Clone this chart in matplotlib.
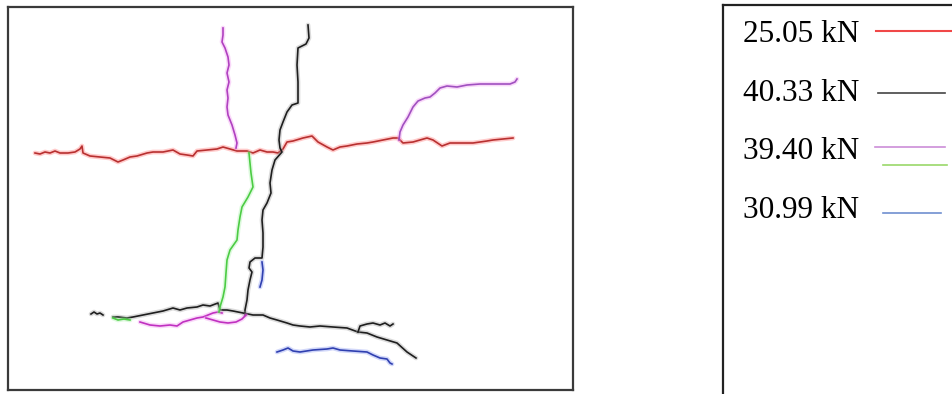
import matplotlib.pyplot as plt
import numpy as np

# crack traces in pixel coordinates (x right, y down)
red_x = [35, 40, 45, 50, 55, 60, 68, 75, 80, 82, 83, 90, 100, 110, 118, 123, 130, 137, 147, 153, 163,
         173, 180, 187, 193, 197, 207, 217, 223, 230, 237, 247, 253, 260, 267, 273, 278, 283, 287,
         293, 303, 312, 318, 327, 333, 340, 347, 357, 367, 373, 383, 393, 398, 403, 413, 427, 433,
         442, 450, 460, 473, 487, 493, 503, 513]
red_y = [153, 154, 152, 153, 151, 153, 153, 152, 149, 146, 153, 156, 157, 158, 162, 160, 157, 156, 153,
         152, 152, 150, 154, 155, 156, 151, 150, 149, 147, 149, 151, 151, 153, 150, 152, 152, 153, 149,
         142, 141, 138, 136, 142, 147, 150, 147, 146, 144, 143, 142, 140, 138, 138, 143, 142, 138, 140,
         146, 143, 143, 143, 141, 140, 139, 138]

black_top_x = [308, 309, 306, 298, 297, 298, 298, 292, 287, 283, 280, 279, 280, 282, 275, 272, 270, 271,
               267, 263, 262, 263, 263, 262, 255, 250, 249, 252, 250, 248, 247, 245, 245]
black_top_y = [25, 38, 44, 48, 65, 82, 103, 105, 112, 122, 130, 140, 148, 152, 160, 170, 183, 193,
               203, 210, 220, 233, 247, 258, 258, 262, 268, 272, 280, 290, 300, 310, 315]

black_low_x = [113, 118, 127, 133, 143, 153, 163, 173, 180, 187, 197, 203, 210, 218, 220, 227, 233, 243,
               253, 263, 270, 277, 287, 293, 300, 310, 320, 333, 347, 358, 367, 377, 387, 397, 407, 416]
black_low_y = [317, 317, 318, 317, 315, 313, 311, 308, 310, 308, 307, 305, 306, 303, 310, 310, 311, 313,
               315, 315, 318, 320, 323, 325, 326, 327, 326, 327, 328, 332, 333, 337, 340, 343, 352, 358]

black_branch_x = [358, 360, 367, 373, 380, 385, 390, 393]
black_branch_y = [332, 326, 324, 323, 325, 323, 326, 324]

black_tick_x = [91, 94, 97, 100, 103]
black_tick_y = [314, 312, 314, 313, 315]

mag_top_x = [223, 223, 222, 225, 228, 229, 227, 229, 227, 228, 227, 228, 232, 235, 237, 236]
mag_top_y = [28, 35, 42, 48, 57, 65, 73, 82, 90, 98, 107, 115, 125, 135, 143, 148]

mag_right_x = [399, 400, 403, 408, 413, 418, 425, 430, 435, 440, 447, 457, 467, 480, 497, 510, 515, 517]
mag_right_y = [140, 132, 125, 117, 107, 101, 98, 97, 93, 88, 86, 87, 85, 84, 84, 84, 82, 79]

mag_low_x = [140, 150, 160, 170, 177, 183, 190, 197, 203, 208, 213, 218, 222]
mag_low_y = [322, 325, 326, 325, 326, 322, 320, 318, 317, 315, 313, 312, 313]

mag_loop_x = [206, 213, 220, 228, 236, 242, 246]
mag_loop_y = [318, 320, 322, 323, 322, 319, 315]

green_x = [249, 250, 251, 253, 248, 242, 240, 238, 237, 230, 227, 226, 225, 223, 220, 219]
green_y = [153, 163, 173, 187, 197, 207, 217, 230, 240, 250, 260, 273, 287, 297, 307, 312]

green_tail_x = [113, 118, 124, 130]
green_tail_y = [318, 320, 319, 320]

blue_short_x = [262, 263, 262, 260]
blue_short_y = [262, 270, 280, 287]

blue_low_x = [277, 283, 288, 293, 300, 313, 327, 333, 340, 353, 367, 373, 380, 387, 390, 392]
blue_low_y = [352, 350, 348, 351, 352, 350, 349, 348, 350, 351, 352, 355, 358, 359, 363, 364]

loads = ['25.05 kN', '40.33 kN', '39.40 kN', '30.99 kN']

BLACK, GREEN, BLUE = '#1e1e1e', '#4ccc44', '#3040b0'

W, H = 953, 394
fig = plt.figure(figsize=(W / 100, H / 100), dpi=100)
fig.patch.set_facecolor('white')

# left panel, box at x 8..573, y 7..390
ax = fig.add_axes([8 / W, (H - 390) / H, 565 / W, 383 / H])
ax.set_xlim(8, 573)
ax.set_ylim(390, 7)
ax.set_xticks([])
ax.set_yticks([])
for s in ax.spines.values():
    s.set_color('#3a3a3a')
    s.set_linewidth(1.6)


def crack(x, y, color, halo):
    ax.plot(x, y, color=halo, lw=3.4, alpha=0.35, solid_capstyle='round', solid_joinstyle='round')
    ax.plot(x, y, color=color, lw=1.2, solid_joinstyle='round')


crack(red_x, red_y, '#b83030', '#ff6a6a')
crack(black_top_x, black_top_y, BLACK, '#999999')
crack(black_low_x, black_low_y, BLACK, '#999999')
crack(black_branch_x, black_branch_y, BLACK, '#999999')
crack(black_tick_x, black_tick_y, BLACK, '#999999')
crack(mag_top_x, mag_top_y, '#b040c0', '#f090f0')
crack(mag_right_x, mag_right_y, '#a050c0', '#f090f0')
crack(mag_low_x, mag_low_y, '#c030c0', '#f090f0')
crack(mag_loop_x, mag_loop_y, '#c030c0', '#f090f0')
crack(green_x, green_y, GREEN, '#a0f0a0')
crack(green_tail_x, green_tail_y, GREEN, '#a0f0a0')
crack(blue_short_x, blue_short_y, BLUE, '#8090f0')
crack(blue_low_x, blue_low_y, BLUE, '#8090f0')

# legend panel, open to the right and bottom
lg = fig.add_axes([723 / W, -0.05, 0.3, (H - 5) / H + 0.05])
lg.set_xlim(723, 723 + 0.3 * W)
lg.set_ylim(H + 0.05 * H, 5)
lg.set_xticks([])
lg.set_yticks([])
for s in lg.spines.values():
    s.set_color('#222222')
    s.set_linewidth(1.6)

text_y = [34, 93, 151, 210]
for lab, ty in zip(loads, text_y):
    lg.text(743, ty, lab, fontsize=22.5, family='Liberation Serif', va='center', ha='left', color='black')

lg.plot([876, 955], [31, 31], color='#f04848', lw=1.5)
lg.plot([878, 945], [93, 93], color='#444444', lw=1.2)
lg.plot([875, 945], [147, 147], color='#cc8ed8', lw=1.2)
lg.plot([883, 947], [165, 165], color='#9ad86a', lw=1.2)
lg.plot([883, 941], [213, 213], color='#6f8fd0', lw=1.2)

fig.savefig('out.png', dpi=100, facecolor='white')
